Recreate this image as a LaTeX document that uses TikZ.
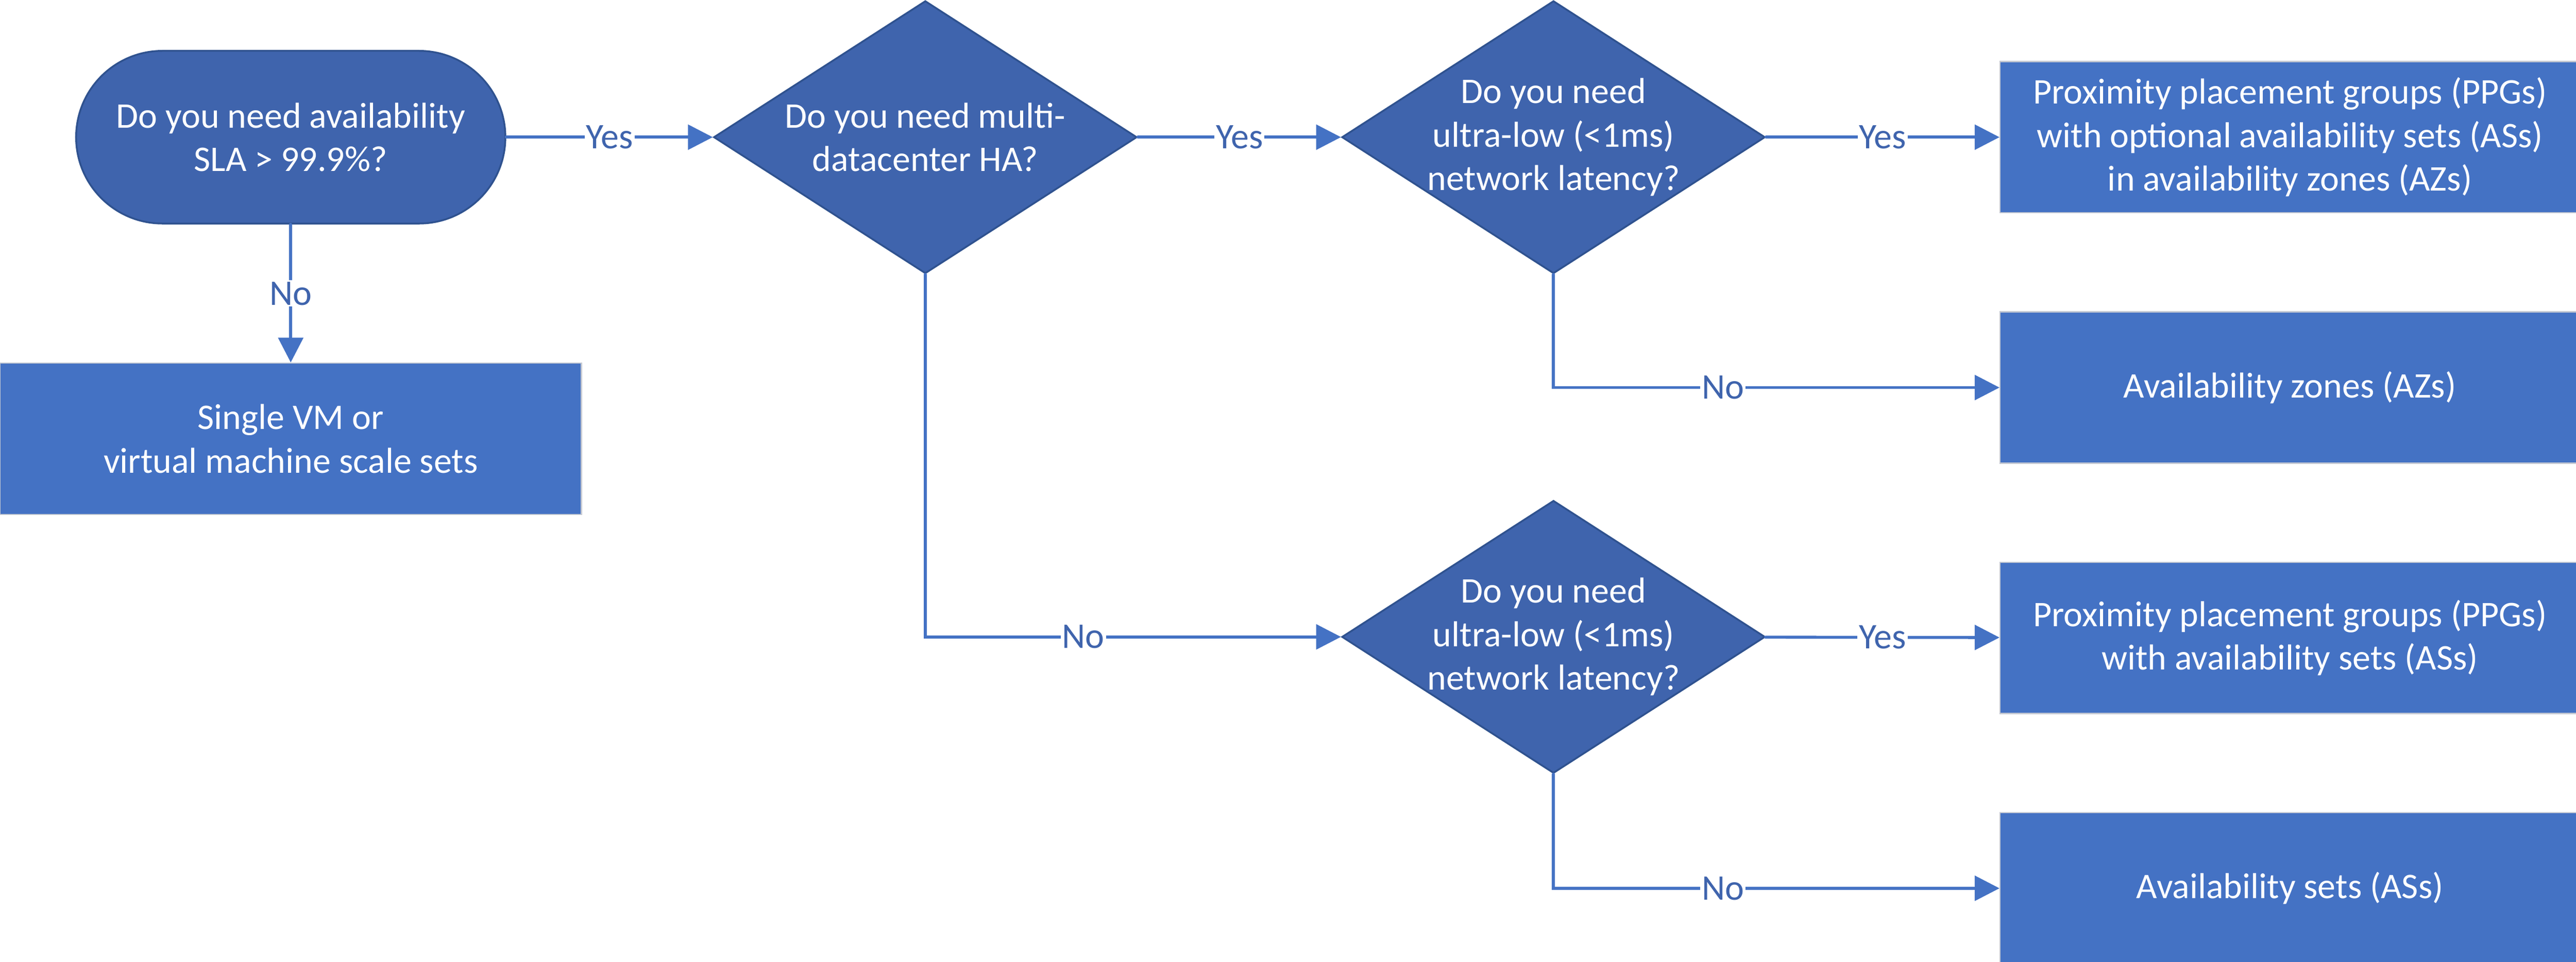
\documentclass[tikz,border=0pt]{standalone}
\usepackage{fontspec}
\setmainfont{Carlito}
\usetikzlibrary{positioning,shapes.geometric,arrows.meta}
\definecolor{askblue}{RGB}{63,100,173}
\definecolor{askedge}{RGB}{47,82,143}
\definecolor{endblue}{RGB}{68,114,196}
\definecolor{endedge}{RGB}{195,200,210}
\definecolor{flowblue}{RGB}{68,114,196}
\tikzset{
	every node/.style={font=\fontsize{24}{29}\selectfont},
	terminal/.style={rectangle, rounded corners=2.02cm, draw=askedge, line width=1.2pt, fill=askblue, text=white, align=center, minimum width=10.04cm, minimum height=4.04cm},
	question/.style={diamond, aspect=1.552, draw=askedge, line width=1.2pt, fill=askblue, text=white, align=center, inner sep=-1cm, minimum width=9.9cm, minimum height=6.38cm},
	outcome/.style={rectangle, draw=endedge, line width=0.8pt, fill=endblue, text=white, align=center, minimum width=13.56cm, minimum height=3.54cm},
	flow/.style={draw=flowblue, line width=2pt, line cap=round, -{Triangle[length=5.8mm, width=5.8mm]}},
	answer/.style={fill=white, text=askblue, inner sep=1pt}
}

\begin{document}
\begin{tikzpicture}
	\useasboundingbox (0,0) rectangle (60.25,-22.5);
	\node [terminal] (sla) at (6.80,-3.21) {Do you need availability\\SLA > 99.9\%?};
	\node [outcome, below=3.23cm of sla, minimum width=13.6cm] (single) {Single VM or\\virtual machine scale sets};
	\node [question, right=4.83cm of sla] (multi) {Do you need multi-\\datacenter HA?};
	\node [question, right=4.75cm of multi] (lowaz) {Do you need\\ultra-low (<1ms)\\network latency?};
	\node [question, below=5.27cm of lowaz] (lowas) {Do you need\\ultra-low (<1ms)\\network latency?};
	\node [outcome, right=5.46cm of lowaz] (ppgaz) {Proximity placement groups (PPGs)\\with optional availability sets (ASs)\\in availability zones (AZs)};
	\node [outcome, below=2.29cm of ppgaz] (az) {Availability zones (AZs)};
	\node [outcome, below=2.29cm of az] (ppgas) {Proximity placement groups (PPGs)\\with availability sets (ASs)};
	\node [outcome, below=2.29cm of ppgas] (as) {Availability sets (ASs)};
	\draw [flow] (sla) to node [answer] {Yes} (multi);
	\draw [flow] (sla) to node [answer] {No} (single);
	\draw [flow] (multi) to node [answer] {Yes} (lowaz);
	\draw [flow] (multi) |- node [answer, pos=0.69] {No} (lowas);
	\draw [flow] (lowaz) to node [answer] {Yes} (ppgaz);
	\draw [flow] (lowaz) |- node [answer, pos=0.69] {No} (az);
	\draw [flow] (lowas) to node [answer] {Yes} (ppgas);
	\draw [flow] (lowas) |- node [answer, pos=0.69] {No} (as);
\end{tikzpicture}
\end{document}
